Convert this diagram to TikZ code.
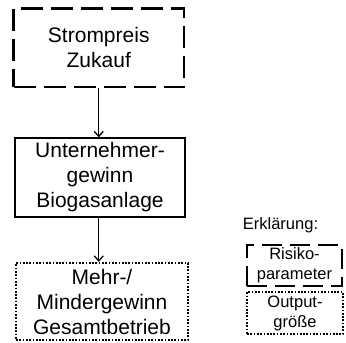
\documentclass[tikz,border=0pt]{standalone}
\usepackage{fontspec}
\setmainfont{Liberation Sans}
\usetikzlibrary{arrows.meta}
\begin{document}
\begin{tikzpicture}[x=1pt,y=-1pt,
  mainbox/.style={rectangle, align=center, inner sep=0pt,
    font=\fontsize{21}{25}\selectfont},
  legbox/.style={rectangle, align=center, inner sep=0pt,
    font=\fontsize{16.5}{20}\selectfont},
  riskline/.style={draw, line width=2.7pt, dash pattern=on 22pt off 8pt},
  outline/.style={draw, line width=2.3pt, dash pattern=on 1.7pt off 1.6pt},
  plainline/.style={draw, line width=1.3pt},
  conn/.style={line width=1.3pt, -{Straight Barb[length=5pt,width=9pt,line width=1.3pt]}}
]
\useasboundingbox (0,0) rectangle (346,343);
\node[mainbox, riskline, minimum width=170.5pt, minimum height=78.5pt] (b1) at (98.75,47.75) {Strompreis\\Zukauf};
\node[mainbox, plainline, minimum width=170pt, minimum height=79pt] (b2) at (100,177.5) {Unternehmer-\\gewinn\\Biogasanlage};
\node[mainbox, outline, minimum width=172pt, minimum height=77pt] (b3) at (102,301.5) {Mehr-/\\Mindergewinn\\Gesamtbetrieb};
\draw[conn] (b1.south) -- (b1.south |- b2.north);
\draw[conn] (b1.south |- b2.south) -- (b1.south |- b3.north);
\node[legbox] (leg) at (280.5,225) {Erklärung:};
\node[legbox, riskline, dash pattern=on 20pt off 8pt, minimum width=95pt, minimum height=41pt] (l1) at (294.5,265.5) {Risiko-\\parameter};
\node[legbox, outline, minimum width=96pt, minimum height=42pt] (l2) at (295,313) {Output-\\größe};
\end{tikzpicture}
\end{document}
